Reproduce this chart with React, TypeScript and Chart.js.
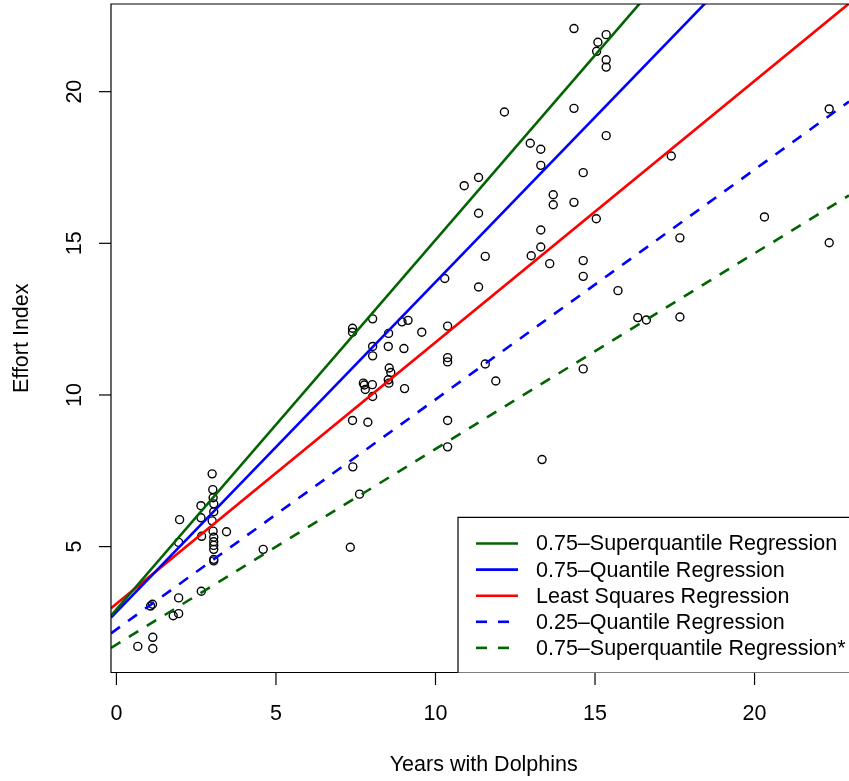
import React, { useEffect, useRef } from "react";
import { Chart, registerables } from "chart.js";

Chart.register(...registerables);

const xTicks = [0, 5, 10, 15, 20];
const yTicks = [5, 10, 15, 20];

const yearsX = [
  3.0, 3.02, 3.03, 2.65, 3.05, 3.05, 1.98, 2.65, 3.0, 3.45, 3.03, 2.67, 3.05, 3.05, 3.05, 3.05, 1.95, 3.05, 3.05, 4.6,
  2.66, 1.95, 1.13, 1.07, 1.95, 1.78, 1.14, 0.67, 1.14,
  7.4, 7.4, 8.03, 8.95, 9.14, 8.53, 9.57, 10.38, 8.03, 8.52, 9.01, 8.03, 10.38, 10.38, 8.55, 8.6, 7.74, 7.77, 8.02, 8.52,
  8.54, 7.8, 9.03, 8.03, 7.4, 7.88, 10.38, 10.38,
  7.41, 7.62, 7.33,
  14.34, 15.35, 15.09, 15.05, 15.35, 15.35, 12.16, 14.34, 15.35, 12.97, 13.3, 13.3, 17.39, 11.35, 10.9, 11.35, 14.63,
  13.69, 13.69, 14.34, 15.04, 13.3, 13.3, 17.66,
  11.56, 13.0, 13.58, 14.63, 14.63, 10.29, 11.35, 15.72, 16.34, 16.61, 17.66, 11.56, 11.89, 14.63, 13.34,
  22.34, 20.31, 22.34,
];

const effortY = [
  7.4, 6.88, 6.61, 6.35, 6.41, 6.15, 5.89, 5.95, 5.85, 5.49, 5.51, 5.34, 5.31, 5.16, 5.04, 4.91, 5.14, 4.58, 4.53, 4.91,
  3.53, 3.31, 3.1, 3.04, 2.79, 2.72, 2.01, 1.71, 1.64,
  12.2, 12.07, 12.51, 12.41, 12.46, 12.03, 12.07, 12.27, 11.6, 11.6, 11.53, 11.29, 11.23, 11.09, 10.89, 10.74, 10.39,
  10.33, 10.34, 10.5, 10.39, 10.18, 10.21, 9.95, 9.16, 9.1, 9.16, 8.29,
  7.63, 6.73, 4.98,
  22.08, 21.88, 21.63, 21.33, 21.05, 20.81, 19.33, 19.45, 18.55, 18.3, 18.1, 17.57, 17.88, 17.17, 16.9, 15.99, 17.33,
  16.6, 16.27, 16.35, 15.81, 15.44, 14.88, 15.18,
  14.57, 14.59, 14.33, 14.43, 13.91, 13.84, 13.56, 13.44, 12.55, 12.47, 12.57, 11.02, 10.46, 10.86, 7.87,
  19.43, 15.87, 15.02,
];

const lineLabels = [
  "0.75–Superquantile Regression",
  "0.75–Quantile Regression",
  "Least Squares Regression",
  "0.25–Quantile Regression",
  "0.75–Superquantile Regression*",
];
const lineIntercepts = [2.93, 2.845, 3.115, 2.27, 1.77];
const lineSlopes = [1.218, 1.0876, 0.862, 0.758, 0.645];
const lineColors = ["#006400", "#0000FF", "#FF0000", "#0000FF", "#006400"];
const lineDashed = [false, false, false, true, true];

const X_MIN = -0.17;
const X_MAX = 22.96;
const Y_MIN = 0.85;
const Y_MAX = 22.89;

const FONT = '21.5px "Liberation Sans", Arial, sans-serif';

const rAxesPlugin = {
  id: "rAxes",
  afterDraw(chart: any) {
    const ctx = chart.ctx;
    const area = chart.chartArea;
    const xs = chart.scales.x;
    const ys = chart.scales.y;
    ctx.save();
    ctx.strokeStyle = "#000";
    ctx.fillStyle = "#000";
    ctx.lineWidth = 1.2;
    // box
    ctx.beginPath();
    ctx.moveTo(area.right + 20, area.top);
    ctx.lineTo(area.left, area.top);
    ctx.lineTo(area.left, area.bottom);
    ctx.lineTo(area.right + 20, area.bottom);
    ctx.stroke();
    // x ticks
    ctx.font = FONT;
    ctx.textAlign = "center";
    ctx.textBaseline = "middle";
    xTicks.forEach((t) => {
      const px = xs.getPixelForValue(t);
      ctx.beginPath();
      ctx.moveTo(px, area.bottom);
      ctx.lineTo(px, area.bottom + 12.5);
      ctx.stroke();
      ctx.fillText(String(t), px, area.bottom + 42);
    });
    // y ticks
    yTicks.forEach((t) => {
      const py = ys.getPixelForValue(t);
      ctx.beginPath();
      ctx.moveTo(area.left, py);
      ctx.lineTo(area.left - 12, py);
      ctx.stroke();
      ctx.save();
      ctx.translate(area.left - 36, py);
      ctx.rotate(-Math.PI / 2);
      ctx.fillText(String(t), 0, 0);
      ctx.restore();
    });
    // axis titles
    ctx.fillText("Years with Dolphins", (area.left + 856.5) / 2, 765);
    ctx.save();
    ctx.translate(22, (area.top + area.bottom) / 2);
    ctx.rotate(-Math.PI / 2);
    ctx.fillText("Effort Index", 0, 0);
    ctx.restore();

    // legend
    const lx = 458;
    const ly = 517.3;
    ctx.fillStyle = "#fff";
    ctx.fillRect(lx, ly, 900 - lx, area.bottom - ly);
    ctx.strokeStyle = "#000";
    ctx.lineWidth = 1.2;
    ctx.beginPath();
    ctx.moveTo(900, ly);
    ctx.lineTo(lx, ly);
    ctx.lineTo(lx, area.bottom);
    ctx.stroke();
    ctx.textAlign = "left";
    lineLabels.forEach((lab, i) => {
      const cy = 543.5 + i * 26.1;
      ctx.strokeStyle = lineColors[i];
      ctx.lineWidth = 2.6;
      ctx.setLineDash(lineDashed[i] ? [11, 11] : []);
      ctx.beginPath();
      ctx.moveTo(476, cy);
      ctx.lineTo(518, cy);
      ctx.stroke();
      ctx.setLineDash([]);
      ctx.fillStyle = "#000";
      ctx.fillText(lab, 536, cy + 1);
    });
    ctx.restore();
  },
};

export default function App() {
  const ref = useRef<HTMLCanvasElement>(null);
  useEffect(() => {
    if (!ref.current) return;
    const lineSets = lineLabels.map((lab, i) => ({
      type: "line" as const,
      label: lab,
      data: [
        { x: X_MIN, y: lineIntercepts[i] + lineSlopes[i] * X_MIN },
        { x: X_MAX, y: lineIntercepts[i] + lineSlopes[i] * X_MAX },
      ],
      borderColor: lineColors[i],
      borderWidth: 2.6,
      borderDash: lineDashed[i] ? [11, 10] : [],
      pointRadius: 0,
      showLine: true,
      fill: false,
      tension: 0,
    }));
    const points = {
      type: "scatter" as const,
      label: "Data",
      data: yearsX.map((x, i) => ({ x, y: effortY[i] })),
      pointStyle: "circle",
      pointRadius: 4,
      pointBorderWidth: 1.4,
      pointBackgroundColor: "rgba(0,0,0,0)",
      pointBorderColor: "#000",
      showLine: false,
    };
    const chart = new Chart(ref.current, {
      type: "scatter",
      data: { datasets: [...lineSets, points] as any },
      options: {
        animation: false,
        responsive: false,
        devicePixelRatio: 1,
        layout: { autoPadding: false, padding: { left: 111, top: 4, right: 0, bottom: 108.5 } },
        plugins: { legend: { display: false }, tooltip: { enabled: false } },
        scales: {
          x: { type: "linear", min: X_MIN, max: X_MAX, display: false },
          y: { type: "linear", min: Y_MIN, max: Y_MAX, display: false },
        },
      },
      plugins: [rAxesPlugin],
    });
    return () => chart.destroy();
  }, []);
  return (
    <div style={{ position: "fixed", left: 0, top: 0, width: 849, height: 781, background: "#fff", overflow: "hidden" }}>
      <canvas ref={ref} width={849} height={781} style={{ width: 849, height: 781 }} />
    </div>
  );
}
